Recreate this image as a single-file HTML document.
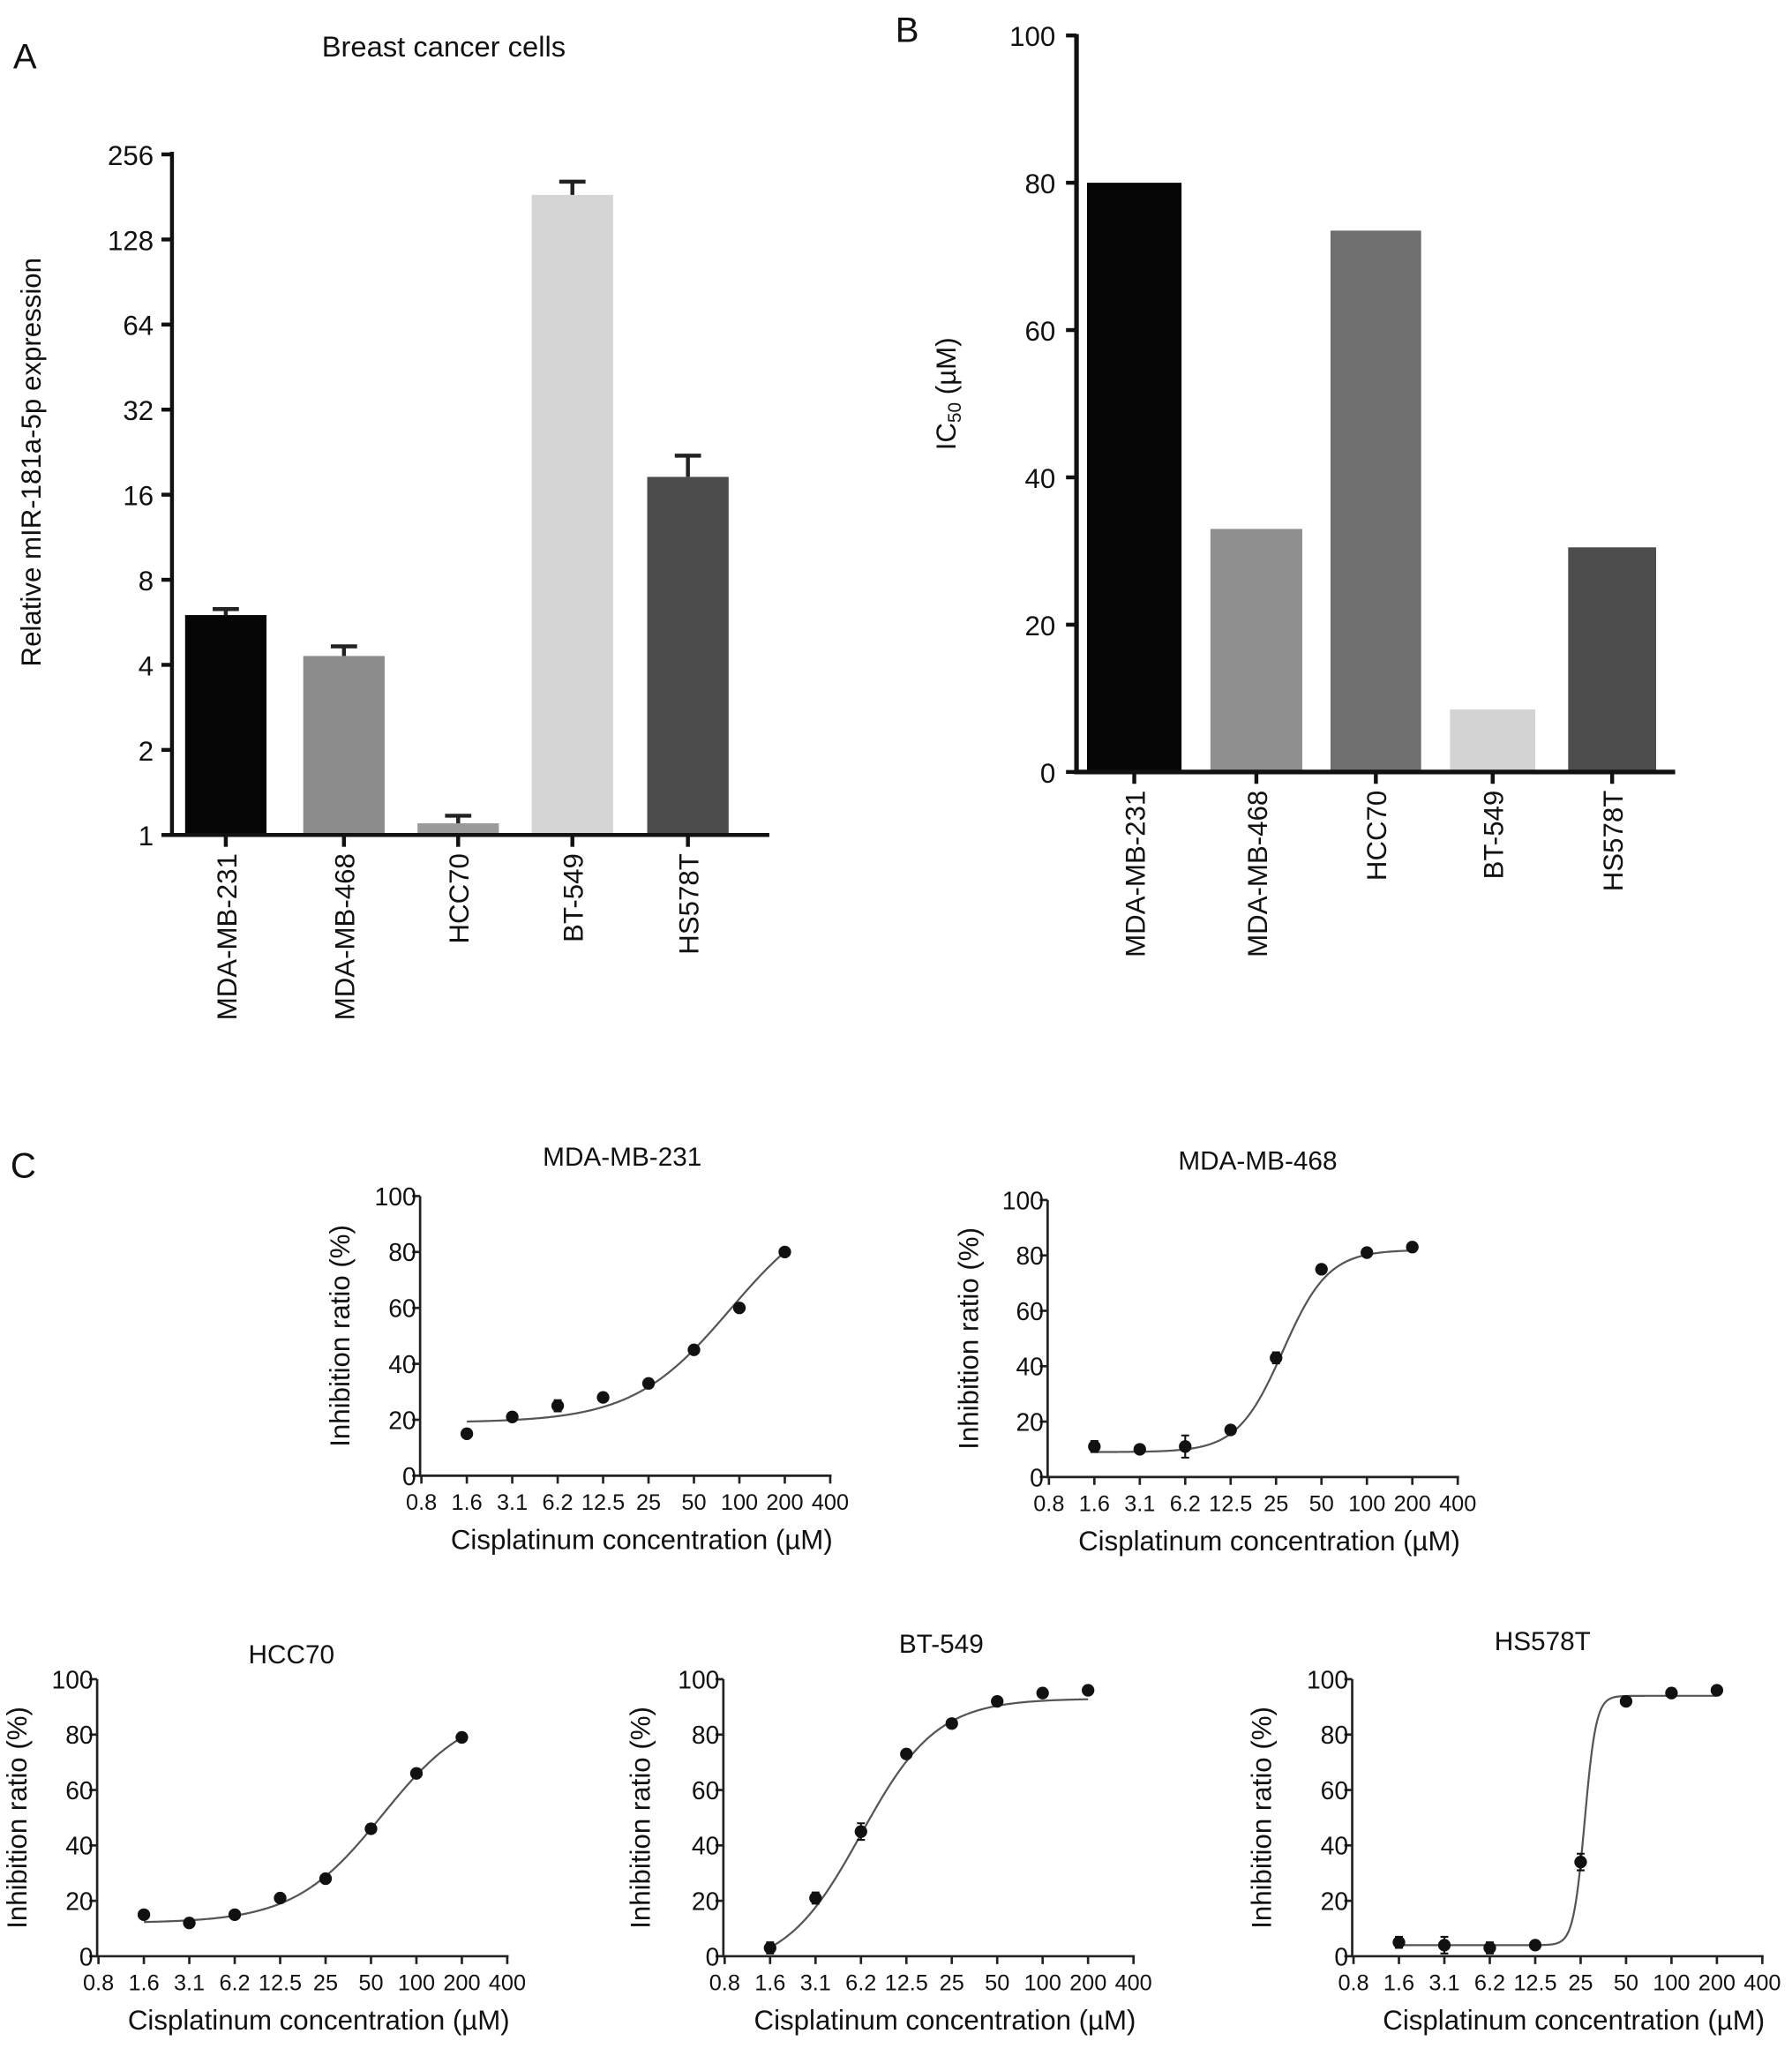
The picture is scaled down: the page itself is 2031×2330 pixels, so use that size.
<!DOCTYPE html>
<html><head><meta charset="utf-8"><style>
html,body{margin:0;padding:0;background:#fff}
svg{display:block}
text{font-family:"Liberation Sans",Arial,sans-serif;fill:#111}
</style></head><body>
<svg id="fig" xmlns="http://www.w3.org/2000/svg" width="2031" height="2330" viewBox="0 0 1365 1566" preserveAspectRatio="none">
<rect x="0" y="0" width="1365" height="1566" fill="#fff"/>
<g id="root"></g>
</svg>
<script>
// ---- Panel A data ----
const catsA = ["MDA-MB-231","MDA-MB-468","HCC70","BT-549","HS578T"];
const valsA = [6.0, 4.3, 1.1, 184, 18.5];
const errA = [6.3, 4.65, 1.17, 205, 22];
const colorsA = ["#050505","#8d8d8d","#9a9a9a","#d5d5d5","#4c4c4c"];
const ticksA = [1,2,4,8,16,32,64,128,256];
// ---- Panel B data ----
const catsB = ["MDA-MB-231","MDA-MB-468","HCC70","BT-549","HS578T"];
const valsB = [80, 33, 73.5, 8.5, 30.5];
const colorsB = ["#050505","#8f8f8f","#6f6f6f","#d3d3d3","#4d4d4d"];
const ticksB = [0,20,40,60,80,100];
// ---- Panel C data ----
const concLabels = ["0.8","1.6","3.1","6.2","12.5","25","50","100","200","400"];
const yTicksC = [0,20,40,60,80,100];
const titlesC = ["MDA-MB-231","MDA-MB-468","HCC70","BT-549","HS578T"];
const inhib231 = [15,21,25,28,33,45,60,80];
const inhib468 = [11,10,11,17,43,75,81,83];
const inhibHCC = [15,12,15,21,28,46,66,79];
const inhibBT = [3,21,45,73,84,92,95,96];
const inhibHS = [5,4,3,4,34,92,95,96];
const errsC = [[1,1,2,1,1,1,1,1],[2,1,4,1,2,1,1,1],[1,1.5,1,1,1,1,1,1],[2,2,3,1,1,1,1,1],[2,3,2,1,3,1,1,1]];
// fitted logistic params: bottom, top, mid (index), slope
const fitBottom = [19, 9, 12, -5, 4];
const fitTop = [100, 82, 90, 93, 94];
const fitMid = [6.8, 5.15, 6.25, 3.0, 5.09];
const fitSlope = [0.93, 2.0, 1.03, 1.2, 8];

const NS="http://www.w3.org/2000/svg";
const root=document.getElementById('root');
function mk(tag,attrs,parent,txt){const e=document.createElementNS(NS,tag);for(const k in attrs)e.setAttribute(k,attrs[k]);if(txt!==undefined)e.textContent=txt;(parent||root).appendChild(e);return e;}

// ===== Panel A =====
const gA=mk('g',{});


let t=mk('text',{x:10,y:52,'font-size':27},gA,'A');

t=mk('text',{x:338,y:43,'font-size':22,'text-anchor':'middle'},gA,'Breast cancer  cells');

const axA=131, botA=636, stepA=64.8;
const yA=v=>botA-Math.log2(v)*stepA;
const xA0=[172,262,349,436,524];
const bwA=62;
ticksA.forEach(v=>{
  const l=mk('line',{x1:axA-8,x2:axA,y1:yA(v),y2:yA(v),stroke:'#111','stroke-width':3},gA);
  
  const tx=mk('text',{x:axA-14,y:yA(v)+8,'font-size':21,'text-anchor':'end'},gA,String(v));
  
});
catsA.forEach((c,i)=>{
  const cx=xA0[i];
  const r=mk('rect',{x:cx-bwA/2,y:yA(valsA[i]),width:bwA,height:botA-yA(valsA[i]),fill:colorsA[i]},gA);
  
  const e=mk('path',{d:`M${cx},${yA(valsA[i])} V${yA(errA[i])} M${cx-10},${yA(errA[i])} H${cx+10}`,stroke:'#222','stroke-width':3,fill:'none'},gA);
  
  const tk=mk('line',{x1:cx,x2:cx,y1:botA,y2:botA+9,stroke:'#111','stroke-width':3},gA);
  
  const lb=mk('text',{x:0,y:0,'font-size':21,'text-anchor':'end',transform:`translate(${cx+8},${botA+14}) rotate(-90)`},gA,c);
  
});
let ax=mk('path',{d:`M${axA},${yA(256)-2} V${botA} H586`,stroke:'#111','stroke-width':3,fill:'none'},gA);

t=mk('text',{x:0,y:0,'font-size':21,'text-anchor':'middle',transform:`translate(31,352) rotate(-90)`},gA,'Relative mIR-181a-5p expression');


// ===== Panel B =====
const gB=mk('g',{});


t=mk('text',{x:682,y:32,'font-size':27},gB,'B');

const axB=820, botB=588, topB=27;
const yB=v=>botB-(botB-topB)*v/100;
const xB0=[864,957,1048,1137,1228];
const bwB=[72,70,69,65,67];
ticksB.forEach(v=>{
  const l=mk('line',{x1:axB-8,x2:axB,y1:yB(v),y2:yB(v),stroke:'#111','stroke-width':3},gB);
  
  const tx=mk('text',{x:axB-16,y:yB(v)+8,'font-size':21,'text-anchor':'end'},gB,String(v));
  
});
catsB.forEach((c,i)=>{
  const cx=xB0[i];
  const r=mk('rect',{x:cx-bwB[i]/2,y:yB(valsB[i]),width:bwB[i],height:botB-yB(valsB[i]),fill:colorsB[i]},gB);
  
  const tk=mk('line',{x1:cx,x2:cx,y1:botB,y2:botB+9,stroke:'#111','stroke-width':3},gB);
  
  const lb=mk('text',{x:0,y:0,'font-size':21,'text-anchor':'end',transform:`translate(${cx+8},${botB+14}) rotate(-90)`},gB,c);
  
});
ax=mk('path',{d:`M${axB},${topB-1} V${botB} H1276`,stroke:'#111','stroke-width':3.5,fill:'none'},gB);

t=mk('text',{x:0,y:0,'font-size':21,'text-anchor':'middle',transform:`translate(728,300) rotate(-90)`},gB);

mk('tspan',{},t,'IC');mk('tspan',{'font-size':14,dy:4},t,'50');mk('tspan',{dy:-4},t,' (µM)');

// ===== Panel C =====
t=mk('text',{x:8,y:897,'font-size':27},root,'C');

const series=[inhib231,inhib468,inhibHCC,inhibBT,inhibHS];
const layC=[[320,1124,911,474,888,266],[798,1125,914,958,891,745],[74,1490,1279,222,1267,20],[551,1490,1279,717,1259,495],[1030,1490,1279,1175,1257,968]];
const stepC=34.6;
series.forEach((data,p)=>{
  const [ax0,y0,yt,tx,ty,ylx]=layC[p];
  const g=mk('g',{});
  
  
  const X=i=>ax0+1+i*stepC;
  const Y=v=>y0-(y0-yt)*v/100;
  let e=mk('text',{x:tx,y:ty,'font-size':20,'text-anchor':'middle'},g,titlesC[p]);
  
  yTicksC.forEach(v=>{
    const l=mk('line',{x1:ax0-6,x2:ax0,y1:Y(v),y2:Y(v),stroke:'#222','stroke-width':1.8},g);
    
    const s=mk('text',{x:ax0-3,y:Y(v)+7,'font-size':19,'text-anchor':'end'},g,String(v));
    
  });
  concLabels.forEach((c,i)=>{
    const l=mk('line',{x1:X(i),x2:X(i),y1:y0,y2:y0+6,stroke:'#222','stroke-width':1.8},g);
    
    const s=mk('text',{x:X(i),y:y0+26,'font-size':17,'text-anchor':'middle'},g,c);
    
  });
  e=mk('path',{d:`M${ax0},${yt} V${y0} H${X(9)+1}`,stroke:'#222','stroke-width':1.8,fill:'none'},g);
  
  e=mk('text',{x:X(4.85),y:y0+56,'font-size':21,'text-anchor':'middle'},g,'Cisplatinum concentration (µM)');
  
  e=mk('text',{x:0,y:0,'font-size':21,'text-anchor':'middle',transform:`translate(${ylx},${(y0+yt)/2}) rotate(-90)`},g,'Inhibition ratio (%)');
  
  let d='';
  for(let k=0;k<=280;k++){const xi=1+7*k/280;const v=fitBottom[p]+(fitTop[p]-fitBottom[p])/(1+Math.exp(-fitSlope[p]*(xi-fitMid[p])));d+=(k?'L':'M')+X(xi).toFixed(2)+','+Y(v).toFixed(2);}
  e=mk('path',{d:d,stroke:'#555','stroke-width':1.5,fill:'none'},g);
  
  data.forEach((v,i)=>{
    const cx=X(i+1),er=errsC[p][i];
    const eb=mk('path',{d:`M${cx},${Y(v-er)} V${Y(v+er)} M${cx-3},${Y(v-er)} H${cx+3} M${cx-3},${Y(v+er)} H${cx+3}`,stroke:'#111','stroke-width':1.4,fill:'none'},g);
    
    const c=mk('circle',{cx:cx,cy:Y(v),r:4.8,fill:'#111'},g);
    
  });
});
</script>
</body></html>
